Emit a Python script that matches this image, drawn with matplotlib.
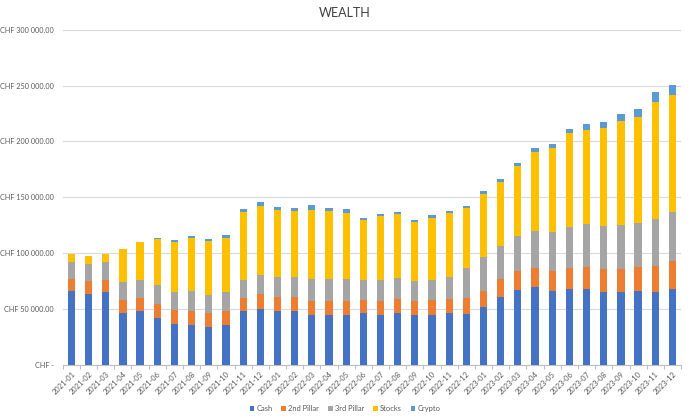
import matplotlib
matplotlib.use("Agg")
import matplotlib.pyplot as plt
from matplotlib.ticker import FixedLocator, FuncFormatter
import numpy as np

months = ["2021-01","2021-02","2021-03","2021-04","2021-05","2021-06","2021-07","2021-08","2021-09","2021-10","2021-11","2021-12",
          "2022-01","2022-02","2022-03","2022-04","2022-05","2022-06","2022-07","2022-08","2022-09","2022-10","2022-11","2022-12",
          "2023-01","2023-02","2023-03","2023-04","2023-05","2023-06","2023-07","2023-08","2023-09","2023-10","2023-11","2023-12"]

cash = [65.7, 63.6, 65.1, 46.3, 48.4, 42.1, 36.7, 36.1, 34.0, 35.8, 47.8, 50.1,
        48.4, 47.8, 45.1, 45.1, 45.1, 46.9, 45.1, 46.3, 45.1, 45.1, 46.9, 45.7,
        52.2, 60.6, 67.2, 70.1, 66.0, 67.8, 67.8, 65.1, 65.1, 65.7, 65.1, 67.8]
pillar2 = [11.3, 11.9, 11.0, 11.9, 11.9, 12.2, 12.6, 12.3, 12.9, 12.6, 11.9, 13.2,
           12.2, 13.4, 12.5, 12.5, 12.5, 11.3, 12.2, 12.8, 12.5, 13.1, 12.5, 14.0,
           14.1, 16.1, 16.4, 16.5, 18.2, 18.8, 20.2, 20.9, 20.9, 22.3, 23.6, 25.6]
pillar3 = [15.0, 14.9, 15.9, 15.8, 15.8, 17.3, 16.1, 17.3, 15.8, 16.7, 16.4, 17.3,
           17.9, 17.3, 19.4, 19.7, 19.7, 17.9, 18.8, 19.1, 17.6, 17.9, 19.1, 26.9,
           30.1, 30.1, 32.2, 33.4, 34.3, 36.7, 38.3, 38.5, 39.4, 38.9, 42.0, 43.6]
stocks = [7.4, 7.2, 7.4, 29.9, 34.0, 40.9, 45.0, 48.3, 48.6, 48.3, 60.3, 61.2,
          59.7, 58.8, 61.8, 60.0, 58.8, 53.7, 57.3, 57.0, 52.6, 55.8, 57.0, 53.7,
          56.7, 57.1, 62.4, 70.7, 75.8, 84.1, 84.1, 87.7, 93.1, 94.6, 104.5, 104.2]
crypto = [0.0, 0.0, 0.0, 0.0, 0.0, 0.9, 1.2, 1.5, 1.5, 3.0, 3.3, 3.6,
          3.0, 3.0, 4.5, 3.3, 3.0, 2.1, 1.5, 1.5, 1.8, 2.4, 1.8, 1.5,
          2.1, 2.7, 2.4, 3.0, 3.7, 3.9, 5.1, 5.1, 5.6, 7.4, 9.0, 9.5]

series_names = ["Cash", "2nd Pillar", "3rd Pillar", "Stocks", "Crypto"]
colors = ["#4472C4", "#ED7D31", "#A5A5A5", "#FFC000", "#5B9BD5"]
yticks = [0, 50000, 100000, 150000, 200000, 250000, 300000]

plt.rcParams['font.family'] = ['Lato', 'DejaVu Sans']

fig = plt.figure(figsize=(6.9, 4.18), dpi=100)
ax = fig.add_axes([0.091, 0.127, 0.896, 0.802])

x = np.arange(len(months))
bottom = np.zeros(len(months))
for name, vals, col in zip(series_names, [cash, pillar2, pillar3, stocks, crypto], colors):
    v = np.array(vals) * 1000
    ax.bar(x, v, width=0.42, bottom=bottom, color=col, label=name, zorder=3)
    bottom += v

ax.set_ylim(0, 300000)
ax.set_xlim(-0.5, len(months) - 0.5)
ax.set_yticks(yticks)
def fmt(v, pos):
    if v == 0:
        return "CHF -"
    return "CHF " + f"{v:,.2f}".replace(",", " ")
ax.yaxis.set_major_formatter(FuncFormatter(fmt))
ax.tick_params(axis='y', length=0, labelsize=5.2, colors='#595959', pad=6.5)
ax.grid(axis='y', color='#D9D9D9', linewidth=0.8, zorder=0)
for s in ['top', 'right', 'left']:
    ax.spines[s].set_visible(False)
ax.spines['bottom'].set_color('#BFBFBF')
ax.spines['bottom'].set_linewidth(0.8)

ax.set_xticks(x)
ax.set_xticklabels(months, rotation=45, ha='right', rotation_mode='anchor', fontsize=5.4, color='#595959')
ax.tick_params(axis='x', length=0, pad=4)
ax.xaxis.set_minor_locator(FixedLocator(np.arange(-0.5, len(months), 1.0)))
ax.tick_params(axis='x', which='minor', length=3, color='#BFBFBF', width=0.8)

fig.text(0.5, 0.968, "WEALTH", ha='center', va='center', fontsize=9, color='#404040')

leg = fig.legend(loc='center', bbox_to_anchor=(0.5, 0.022), ncol=5, frameon=False,
                 fontsize=5.4, handlelength=0.6, handleheight=0.6, handletextpad=0.3,
                 columnspacing=1.2)
for t in leg.get_texts():
    t.set_color('#595959')

fig.savefig("out.png", dpi=100)
